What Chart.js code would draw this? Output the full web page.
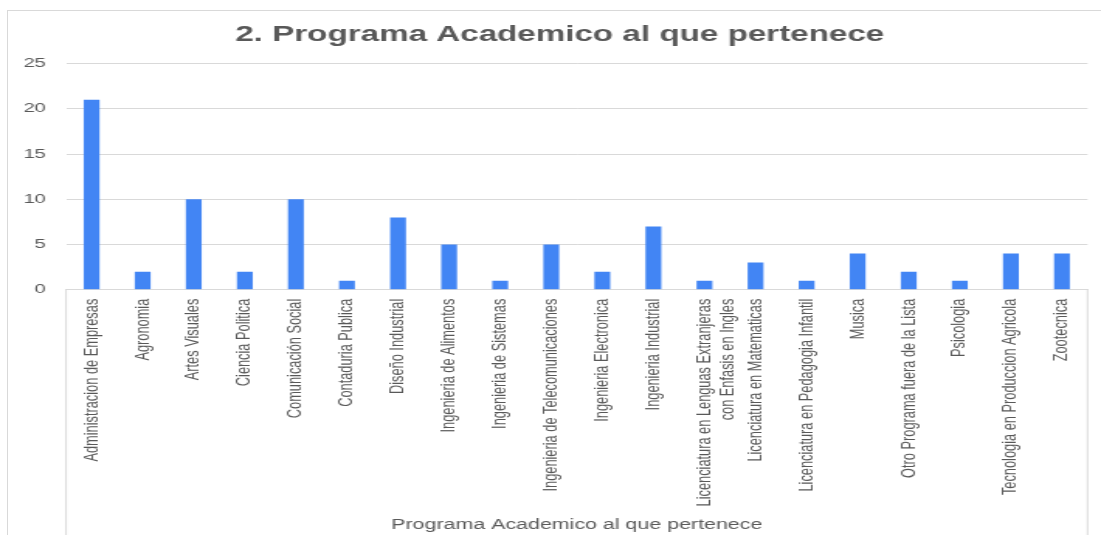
<!DOCTYPE html>
<html>
<head>
<meta charset="utf-8">
<script src="https://cdn.jsdelivr.net/npm/chart.js@4"></script>
<style>
body{margin:0;background:#fff;overflow:hidden}
#frame{position:absolute;left:7px;top:10px;width:1200px;height:700px;border:1px solid #d9d9d9}
#wrap{position:absolute;left:0;top:0;width:710px;height:535px;transform:scaleX(1.5507);transform-origin:0 0}
</style>
</head>
<body>
<div id="frame"></div>
<div id="wrap"><canvas id="myChart" width="710" height="535"></canvas></div>
<script>
// categories and counts
var programas=['Administracion de Empresas','Agronomia','Artes Visuales','Ciencia Politica',
'Comunicación Social','Contaduria Publica','Diseño Industrial','Ingenieria de Alimentos',
'Ingenieria de Sistemas','Ingenieria de Telecomunicaciones','Ingenieria Electronica',
'Ingenieria Industrial',['Licenciatura en Lenguas Extranjeras','con Enfasis en Ingles'],
'Licenciatura en Matematicas','Licenciatura en Pedagogia Infantil','Musica',
'Otro Programa fuera de la Lista','Psicologia','Tecnologia en Produccion Agricola','Zootecnica']
var cantidades=[21,2,10,2,10,1,8,5,1,5,2,7,1,3,1,4,2,1,4,4]
var yTicks=[0,5,10,15,20,25]

var gris='#595959'
var linea='#d9d9d9'
var fuente="'Liberation Sans', Arial, sans-serif"

// box around the category labels, title nudged a bit right
var cajaEtiquetas={
 id:'cajaEtiquetas',
 afterLayout:function(chart){
  var t=chart.titleBlock
  if(t){t.left+=3;t.right+=3}
 },
 afterDraw:function(chart){
  var ctx=chart.ctx, a=chart.chartArea
  ctx.save()
  ctx.strokeStyle=linea
  ctx.lineWidth=1
  ctx.beginPath()
  ctx.moveTo(a.left,a.bottom);ctx.lineTo(a.left,chart.height)
  ctx.moveTo(a.right,a.bottom);ctx.lineTo(a.right,chart.height)
  ctx.stroke()
  ctx.restore()
 }
}

var ctx=document.getElementById('myChart').getContext('2d')
var visual=new Chart(ctx,{
 type:'bar',
 data:{labels:programas,
  datasets:[{label:'Programa Academico al que pertenece',data:cantidades,
   backgroundColor:'#4285f4',barPercentage:0.31,categoryPercentage:1}]},
 options:{
  responsive:false,
  animation:false,
  layout:{padding:{left:14.6,right:8.7,top:10,bottom:2}},
  plugins:{
   legend:{display:false},
   tooltip:{enabled:false},
   title:{display:true,text:'2. Programa Academico al que pertenece',color:gris,
    font:{family:fuente,size:21.4,weight:'bold'},padding:{top:12,bottom:16}}
  },
  scales:{
   x:{
    afterFit:function(s){s.paddingLeft=0;s.paddingRight=0},
    grid:{display:false,drawTicks:false},
    border:{color:linea},
    ticks:{color:gris,autoSkip:false,maxRotation:90,minRotation:90,padding:9,
     font:{family:fuente,size:12.8}},
    title:{display:true,text:'Programa Academico al que pertenece',color:gris,
     font:{family:fuente,size:13.8},padding:{top:1,bottom:0}}
   },
   y:{
    min:yTicks[0],max:yTicks[yTicks.length-1],
    afterBuildTicks:function(s){s.ticks=yTicks.map(function(v){return {value:v}})},
    afterFit:function(s){s.width=28},
    grid:{color:linea,drawTicks:false},
    border:{display:false},
    ticks:{color:gris,padding:13,font:{family:fuente,size:13}}
   }
  }
 },
 plugins:[cajaEtiquetas]
})
</script>
</body>
</html>
